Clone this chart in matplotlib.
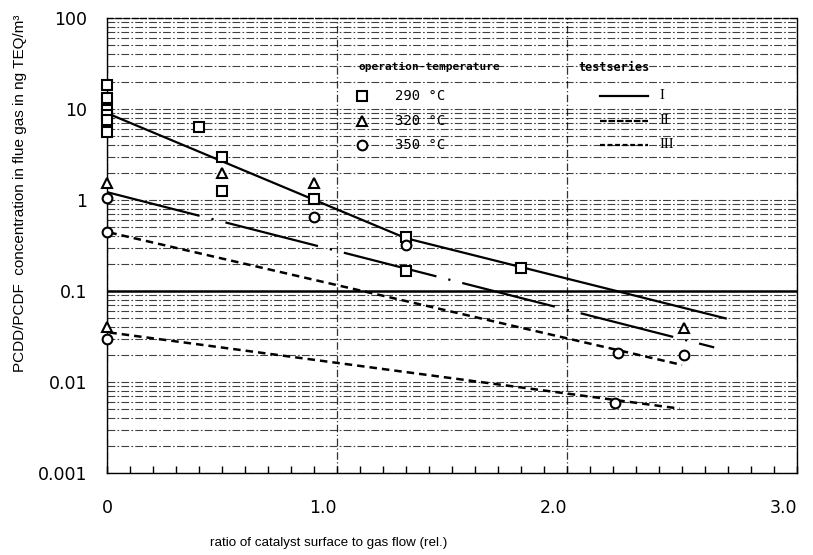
import matplotlib
matplotlib.use("Agg")
import matplotlib.pyplot as plt
from matplotlib.ticker import LogLocator, MultipleLocator, NullFormatter

sq_x = [0, 0, 0, 0, 0, 0, 0.40, 0.50, 0.50, 0.90, 1.30, 1.30, 1.80]
sq_y = [18.4, 13.2, 9.8, 8.6, 7.6, 5.6, 6.3, 3.0, 1.26, 1.03, 0.39, 0.166, 0.18]
tri_x = [0, 0, 0.50, 0.90, 2.51]
tri_y = [1.54, 0.040, 1.98, 1.54, 0.039]
circ_x = [0, 0, 0, 0.90, 1.30, 2.21, 2.22, 2.51]
circ_y = [1.05, 0.45, 0.030, 0.65, 0.32, 0.0059, 0.021, 0.020]

# regression lines of the test series
line1_x = [0, 1.30, 2.69]
line1_y = [9.0, 0.38, 0.050]
line2_x = [0, 2.64]
line2_y = [1.22, 0.024]
line3a_x = [0.01, 2.50]
line3a_y = [0.44, 0.0154]
line3b_x = [0.01, 2.49]
line3b_y = [0.035, 0.0051]
limit = 0.1

temps = ["290 °C", "320 °C", "350 °C"]
series = ["I", "II", "III"]
xticks = [0, 1, 2, 3]
xticklabels = ["0", "1.0", "2.0", "3.0"]
yticks = [0.001, 0.01, 0.1, 1, 10, 100]
yticklabels = ["0.001", "0.01", "0.1", "1", "10", "100"]

W, H = 813, 555
fig = plt.figure(figsize=(W / 100, H / 100), dpi=100)
ax = fig.add_axes([107 / W, 1 - 473 / H, 690 / W, 455 / H])
ax.set_yscale("log")
ax.set_xlim(0, 3)
ax.set_ylim(0.001, 100)

# grid: dashed horizontal lines on every log subdivision, verticals at 1 and 2
ax.yaxis.set_minor_locator(LogLocator(base=10, subs=range(2, 10), numticks=20))
ax.yaxis.set_minor_formatter(NullFormatter())
ax.grid(which="both", axis="y", color="black", alpha=0.75, lw=0.8,
        dashes=(7, 2, 1.5, 2))
ax.grid(which="major", axis="x", color="black", alpha=0.8, lw=0.9,
        dashes=(6, 2, 1, 2))
ax.axhline(limit, color="black", lw=1.8, zorder=2)

ax.set_xticks(xticks)
ax.set_xticklabels(xticklabels, fontsize=12.5)
for lab in ax.get_xticklabels()[1:]:
    lab.set_ha("right")
ax.xaxis.set_minor_locator(MultipleLocator(0.1))
ax.tick_params(axis="x", which="both", direction="in", length=5, width=1, pad=19)
ax.set_yticks(yticks)
ax.set_yticklabels(yticklabels, fontsize=12.5)
ax.tick_params(axis="y", which="both", length=0, pad=14)

for s in ax.spines.values():
    s.set_linewidth(1.0)
ax.spines["top"].set_linestyle((0, (4, 2)))

# lines
ax.plot(line1_x, line1_y, color="black", lw=1.6, zorder=3)
ax.plot(line2_x, line2_y, color="black", lw=1.6, dashes=(43, 5.5, 1, 5.5), zorder=3)
ax.plot(line3a_x, line3a_y, color="black", lw=1.8, dashes=(3, 2), zorder=3)
ax.plot(line3b_x, line3b_y, color="black", lw=1.8, dashes=(3, 2), zorder=3)

# measured points
mk = dict(ls="none", mfc="white", mec="black", mew=1.5, zorder=4, clip_on=False)
ax.plot(sq_x, sq_y, marker="s", ms=7, **mk)
ax.plot(tri_x, tri_y, marker="^", ms=7, **mk)
ax.plot(circ_x, circ_y, marker="o", ms=7, **mk)

# hand-made legend in the upper right
tr = ax.transAxes
mono = "DejaVu Sans Mono"
ax.text(0.364, 0.892, "operation-temperature", transform=tr, fontsize=8,
        family=mono, va="center", ha="left", weight="bold")
ax.text(0.683, 0.892, "testseries", transform=tr, fontsize=8.5,
        family=mono, va="center", ha="left", weight="bold")
rows_y = [0.829, 0.774, 0.721]
for m, t, yy in zip(["s", "^", "o"], temps, rows_y):
    ax.plot([0.370], [yy], marker=m, transform=tr, ms=7, **mk)
    ax.text(0.417, yy, t, transform=tr, fontsize=10, family=mono, va="center")
styles = [dict(), dict(dashes=(3, 0.8)), dict(dashes=(2.2, 1.2))]
for st, s, yy in zip(styles, series, rows_y):
    ax.plot([0.714, 0.784], [yy, yy], transform=tr, color="black", lw=1.6, **st)
    ax.text(0.801, yy, s, transform=tr, fontsize=10.5, family="Liberation Serif",
            va="center")

fig.text(20 / W, 1 - 193 / H, "PCDD/PCDF  concentration in flue gas in ng TEQ/m³",
         rotation=90, ha="center", va="center", fontsize=11,
         family="Liberation Sans")
fig.text(329 / W, 1 - 543 / H, "ratio of catalyst surface to gas flow (rel.)",
         ha="center", va="center", fontsize=9.6,
         family=["Liberation Sans Narrow", "Liberation Sans"])

fig.savefig("out.png", dpi=100)
